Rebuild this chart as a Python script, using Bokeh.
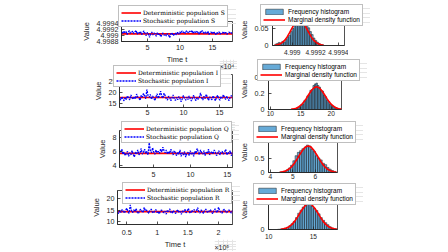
import numpy as np
from jinja2 import Template
from bokeh.plotting import figure
from bokeh.models import Legend, LegendItem, Label, FixedTicker, CustomJSTickFormatter, Range1d
from bokeh.embed import file_html
from bokeh.resources import INLINE

# ---------------- data ----------------
# time spans of the simulated paths (x10^4 for S, I, Q ; x10^5 for R)
t_span_S = (1.0, 18.1)
t_span_I = (1.1, 16.8)
t_span_Q = (0.4, 15.7)
t_span_R = (0.35, 2.23)

det_S = 4.99905
det_I = 17.7
det_Q = 5.72
det_R = 14.3

sto_S = [
    4.99912, 4.99905, 4.99915, 4.99909, 4.99913, 4.99903, 4.99911, 4.99916, 4.99907, 4.99910,
    4.99914, 4.99906, 4.99912, 4.99917, 4.99904, 4.99911, 4.99908, 4.99913, 4.99902, 4.99909,
    4.99915, 4.99907, 4.99899, 4.99910, 4.99906, 4.99893, 4.99904, 4.99911, 4.99901, 4.99908,
    4.99905, 4.99897, 4.99909, 4.99903, 4.99906, 4.99895, 4.99902, 4.99908, 4.99900, 4.99904,
    4.99898, 4.99906, 4.99901, 4.99892, 4.99905, 4.99909, 4.99899, 4.99903, 4.99907, 4.99902,
    4.99910, 4.99904, 4.99912, 4.99907, 4.99915, 4.99909, 4.99913, 4.99906, 4.99916, 4.99911,
    4.99908, 4.99914, 4.99910, 4.99917, 4.99906, 4.99912, 4.99909, 4.99915, 4.99911, 4.99904,
    4.99913, 4.99908, 4.99916, 4.99910, 4.99905, 4.99912, 4.99907, 4.99914, 4.99903, 4.99909,
    4.99911, 4.99905, 4.99913, 4.99908, 4.99902, 4.99910, 4.99906, 4.99912, 4.99904, 4.99909,
    4.99907, 4.99913, 4.99905, 4.99910, 4.99903, 4.99908, 4.99911, 4.99906, 4.99909, 4.99905]

sto_I = [
    17.2, 16.5, 18.1, 17.0, 16.2, 17.8, 16.8, 18.5, 17.4, 16.6,
    18.9, 17.6, 16.9, 18.2, 17.1, 19.3, 18.0, 17.5, 16.4, 18.7,
    17.9, 19.6, 18.3, 17.2, 21.3, 18.6, 17.8, 19.1, 16.9, 18.4,
    17.6, 16.3, 18.0, 19.4, 17.3, 18.8, 20.6, 18.2, 17.4, 19.7,
    18.5, 17.1, 16.6, 18.3, 17.7, 16.2, 17.5, 18.9, 17.0, 16.4,
    17.8, 16.7, 18.2, 17.3, 15.8, 17.1, 18.6, 17.4, 16.5, 17.9,
    16.8, 18.4, 17.2, 16.1, 17.6, 18.8, 17.0, 16.3, 17.7, 16.9,
    18.1, 19.8, 17.5, 16.6, 18.3, 17.2, 19.2, 17.8, 16.4, 18.0,
    17.3, 16.7, 18.5, 17.6, 16.2, 17.9, 18.7, 17.1, 16.5, 18.2,
    17.4, 19.0, 17.7, 16.8, 18.4, 17.0, 16.3, 17.8, 18.6, 17.5]

sto_Q = [
    6.1, 5.8, 6.3, 5.6, 5.9, 5.4, 5.7, 6.0, 5.3, 5.8,
    5.5, 6.1, 5.6, 5.2, 5.9, 5.7, 6.2, 5.5, 5.8, 6.4,
    5.6, 5.9, 6.3, 5.7, 6.0, 5.5, 7.2, 6.1, 5.8, 6.5,
    5.9, 5.6, 6.2, 5.8, 6.0, 5.7, 6.3, 5.9, 6.6, 6.1,
    5.8, 6.2, 5.6, 6.0, 5.7, 6.3, 5.9, 5.5, 6.1, 5.8,
    5.4, 5.9, 5.6, 6.2, 5.3, 5.8, 5.5, 6.0, 5.2, 5.7,
    5.9, 5.4, 6.1, 5.6, 5.8, 5.3, 6.0, 5.7, 6.4, 5.9,
    5.5, 6.2, 5.8, 5.6, 6.1, 5.4, 5.9, 5.7, 6.3, 5.5,
    5.8, 6.0, 5.6, 6.2, 5.9, 5.4, 5.7, 6.1, 5.5, 5.9,
    6.0, 5.6, 5.8, 6.3, 5.5, 5.9, 5.7, 6.1, 5.4, 5.8]

sto_R = [
    14.1, 13.5, 14.8, 13.9, 15.2, 14.4, 13.7, 14.9, 15.8, 14.2,
    13.6, 17.2, 14.7, 13.8, 15.1, 14.3, 15.6, 14.0, 13.4, 14.8,
    15.3, 14.5, 13.9, 16.1, 14.6, 15.0, 14.2, 13.6, 14.9, 15.4,
    14.1, 13.7, 14.6, 15.2, 13.9, 14.4, 13.3, 14.7, 15.0, 14.2,
    13.8, 14.5, 13.2, 14.9, 14.3, 15.5, 14.0, 13.6, 14.8, 14.1,
    13.5, 14.6, 15.1, 13.9, 14.4, 13.1, 14.7, 14.2, 15.3, 13.8,
    14.5, 15.7, 14.0, 13.6, 14.9, 14.3, 15.2, 13.9, 14.6, 16.0,
    14.1, 13.7, 15.0, 14.4, 13.5, 14.8, 15.4, 14.2, 13.8, 14.6,
    15.1, 14.0, 13.4, 14.7, 15.5, 14.3, 13.9, 16.2, 14.5, 14.1,
    13.6, 14.9, 15.3, 14.2, 13.8, 14.6, 15.0, 14.4, 13.7, 14.8]

# histograms: first bin left edge, bin width, bar heights
hist_S_start, hist_S_width = 4.99885, 0.000015
hist_S = [0.004, 0.006, 0.009, 0.007, 0.012, 0.010, 0.018, 0.026, 0.030, 0.041, 0.050, 0.058, 0.066, 0.071,
          0.074, 0.078, 0.072, 0.069, 0.060, 0.052, 0.041, 0.032, 0.022, 0.015, 0.010, 0.006, 0.003, 0.002]
hist_I_start, hist_I_width = 14.0, 0.25
hist_I = [0.008, 0.015, 0.030, 0.035, 0.060, 0.070, 0.110, 0.125, 0.170, 0.185, 0.240, 0.250, 0.300, 0.320,
          0.330, 0.300, 0.280, 0.240, 0.230, 0.180, 0.160, 0.115, 0.100, 0.065, 0.055, 0.040, 0.030, 0.025, 0.012]
hist_Q_start, hist_Q_width = 4.4, 0.1
hist_Q = [0.015, 0.030, 0.050, 0.090, 0.160, 0.260, 0.420, 0.600, 0.720, 0.780, 0.850, 0.900, 0.980, 0.950,
          0.830, 0.760, 0.600, 0.520, 0.450, 0.330, 0.280, 0.180, 0.120, 0.070, 0.040]
hist_R_start, hist_R_width = 11.0, 0.25
hist_R = [0.003, 0.006, 0.012, 0.020, 0.032, 0.055, 0.085, 0.120, 0.175, 0.240, 0.285, 0.330, 0.365, 0.385,
          0.370, 0.345, 0.310, 0.280, 0.230, 0.175, 0.135, 0.100, 0.070, 0.040, 0.022, 0.012, 0.005]

# marginal density curves
dens_S_x = [4.99885, 4.998871, 4.998892, 4.998913, 4.998934, 4.998955, 4.998976, 4.998997, 4.999018, 4.999039,
            4.99906, 4.999081, 4.999102, 4.999123, 4.999144, 4.999165, 4.999186, 4.999207, 4.999228, 4.999249, 4.99927]
dens_S_y = [0.0008, 0.0020, 0.0043, 0.0084, 0.0150, 0.0247, 0.0370, 0.0507, 0.0635, 0.0727,
            0.0760, 0.0727, 0.0635, 0.0507, 0.0370, 0.0247, 0.0150, 0.0084, 0.0043, 0.0020, 0.0008]
dens_I_x = [13.4, 13.82, 14.24, 14.66, 15.08, 15.5, 15.92, 16.34, 16.76, 17.18,
            17.6, 18.02, 18.44, 18.86, 19.28, 19.7, 20.12, 20.54, 20.96, 21.38, 21.8]
dens_I_y = [0.0031, 0.0074, 0.0160, 0.0314, 0.0564, 0.0926, 0.1388, 0.1901, 0.2380, 0.2724,
            0.2850, 0.2724, 0.2380, 0.1901, 0.1388, 0.0926, 0.0564, 0.0314, 0.0160, 0.0074, 0.0031]
dens_Q_x = [4.42, 4.546, 4.672, 4.798, 4.924, 5.05, 5.176, 5.302, 5.428, 5.554,
            5.68, 5.806, 5.932, 6.058, 6.184, 6.31, 6.436, 6.562, 6.688, 6.814, 6.94]
dens_Q_y = [0.0105, 0.0247, 0.0532, 0.1045, 0.1881, 0.3088, 0.4627, 0.6337, 0.7933, 0.9082,
            0.9500, 0.9082, 0.7933, 0.6337, 0.4627, 0.3088, 0.1881, 0.1045, 0.0532, 0.0247, 0.0105]
dens_R_x = [11.35, 11.665, 11.98, 12.295, 12.61, 12.925, 13.24, 13.555, 13.87, 14.185,
            14.5, 14.815, 15.13, 15.445, 15.76, 16.075, 16.39, 16.705, 17.02, 17.335, 17.65]
dens_R_y = [0.0042, 0.0099, 0.0213, 0.0418, 0.0752, 0.1235, 0.1851, 0.2535, 0.3173, 0.3633,
            0.3800, 0.3633, 0.3173, 0.2535, 0.1851, 0.1235, 0.0752, 0.0418, 0.0213, 0.0099, 0.0042]

ticks_S_y = [4.9988, 4.999, 4.9992, 4.9994]
ticks_I_y = [15, 20, 25]
ticks_Q_y = [4, 6, 8]
ticks_R_y = [10, 15, 20]
ticks_t_4 = [5, 10, 15]
ticks_t_5 = [0.5, 1, 1.5, 2]
ticks_hS_x = [4.999, 4.9992, 4.9994]
ticks_hS_y = [0, 0.05]
ticks_hI_x = [10, 15, 20]
ticks_hI_y = [0, 0.2, 0.4]
ticks_hQ_x = [4, 5, 6]
ticks_hQ_y = [0, 0.5]
ticks_hR_x = [10, 15]
ticks_hR_y = [0, 0.5]

# ---------------- styling ----------------
SANS = "Liberation Sans"
SERIF = "DejaVu Serif"
AX = "#262626"
RED = "#FF0000"
BLUE = "#0000FF"
HIST_FILL = "#0072BD"

roots, places = [], []


def place(p, left, top):
    roots.append(p)
    places.append((left, top))


def fmt():
    return CustomJSTickFormatter(code="return String(+tick.toFixed(5));")


def make_panel(frame, pad, xr, yr, xticks, yticks, xstand, ystand, xlabel=None, xfont="7.2px"):
    fx0, fy0, fx1, fy1 = frame
    L, T, R, B = pad
    p = figure(width=fx1 - fx0 + L + R, height=fy1 - fy0 + T + B,
               x_range=Range1d(*xr), y_range=Range1d(*yr),
               output_backend="svg", toolbar_location=None,
               min_border_left=L, min_border_right=R, min_border_top=T, min_border_bottom=B)
    p.xgrid.visible = False
    p.ygrid.visible = False
    p.outline_line_color = AX
    p.outline_line_width = 0.8
    p.background_fill_color = "white"
    p.border_fill_alpha = 0
    for ax in (p.xaxis[0], p.yaxis[0]):
        ax.major_tick_in = 3
        ax.major_tick_out = 0
        ax.minor_tick_line_color = None
        ax.axis_line_color = AX
        ax.axis_line_width = 0.8
        ax.major_tick_line_color = AX
        ax.major_tick_line_width = 0.8
        ax.major_label_text_font = SANS
        ax.major_label_text_font_size = "7.2px"
        ax.major_label_text_color = AX
        ax.axis_label_text_font = SANS
        ax.axis_label_text_font_size = "7.5px"
        ax.axis_label_text_font_style = "normal"
        ax.axis_label_text_color = AX
        ax.formatter = fmt()
    p.xaxis.major_label_text_font_size = xfont
    p.xaxis.major_label_standoff = xstand
    p.yaxis.major_label_standoff = ystand
    p.xaxis.axis_label_standoff = 2
    p.yaxis.axis_label_standoff = 3
    p.xaxis.ticker = FixedTicker(ticks=xticks)
    p.yaxis.ticker = FixedTicker(ticks=yticks)
    p.yaxis.axis_label = "Value"
    if xlabel:
        p.xaxis.axis_label = xlabel
    place(p, fx0 - L, fy0 - T)
    return p


def time_panel(frame, pad, tspan, yr, yticks, xticks, det, sto, xstand):
    p = make_panel(frame, pad, tspan, yr, xticks, yticks, xstand, 3, "Time t")
    t = np.linspace(tspan[0], tspan[1], len(sto))
    p.line(t, [det] * len(t), line_color=RED, line_width=1.6)
    p.line(t, sto, line_color=BLUE, line_width=1.3, line_dash="2 1")
    return p


def hist_centers(start, width, heights):
    return [start + width * (i + 0.5) for i in range(len(heights))]


def hist_panel(frame, pad, xr, yr, xticks, yticks, start, width, heights, dx, dy, xstand):
    p = make_panel(frame, pad, xr, yr, xticks, yticks, xstand, 4, xfont="6.6px")
    p.vbar(x=hist_centers(start, width, heights), top=heights, bottom=0, width=width,
           fill_color=HIST_FILL, fill_alpha=0.6, line_color="#1a1a1a", line_width=0.5)
    p.line(dx, dy, line_color=RED, line_width=1.6)
    return p


def blank(w, h):
    # transparent canvas whose view range lies away from the data (only the legend shows)
    p = figure(width=w, height=h, x_range=Range1d(-3, -2), y_range=Range1d(-3, -2),
               x_axis_location=None, y_axis_location=None,
               output_backend="svg", toolbar_location=None, min_border=0)
    p.outline_line_color = None
    p.background_fill_alpha = 0
    p.border_fill_alpha = 0
    return p


def legend_time(name, tspan, det, sto, left, top):
    p = blank(118, 22)
    t = np.linspace(tspan[0], tspan[1], len(sto))
    r1 = p.line(t, [det] * len(t), line_color=RED, line_width=1.6)
    r2 = p.line(t, sto, line_color=BLUE, line_width=1.3, line_dash="2 1")
    items = [LegendItem(label="Deterministic population " + name, renderers=[r1]),
             LegendItem(label="Stochastic population " + name, renderers=[r2])]
    finish_legend(p, items, SERIF, "6px", 20, 2, left, top)


def legend_hist(start, width, heights, dx, dy, left, top):
    p = blank(110, 22)
    r1 = p.vbar(x=hist_centers(start, width, heights), top=heights, bottom=0, width=width,
                fill_color=HIST_FILL, fill_alpha=0.6, line_color="#1a1a1a", line_width=0.5)
    r2 = p.line(dx, dy, line_color=RED, line_width=1.6)
    items = [LegendItem(label="Frequency histogram", renderers=[r1]),
             LegendItem(label="Marginal density function", renderers=[r2])]
    finish_legend(p, items, SANS, "6.5px", 22, 3, left, top)


def finish_legend(p, items, font, size, gw, so, left, top):
    leg = Legend(items=items, location="top_left", orientation="vertical",
                 label_text_font=font, label_text_font_size=size, label_text_color="black",
                 glyph_width=gw, glyph_height=7, label_height=8, label_standoff=so,
                 padding=2, spacing=0, margin=0,
                 border_line_color="#808080", border_line_width=0.8,
                 background_fill_color="white", background_fill_alpha=1.0)
    p.add_layout(leg, "center")
    place(p, left, top)


def note(text, left, top, w, h):
    p = blank(w, h)
    p.add_layout(Label(x=0, y=1, x_units="screen", y_units="screen", text=text,
                       text_font=SANS, text_font_size="7px", text_color=AX,
                       text_align="left", text_baseline="bottom"))
    place(p, left, top)


# ---------------- left column: time paths ----------------
time_panel((121, 21, 232, 44), (121, 4, 4, 22), t_span_S, (4.99879, 4.99947),
           ticks_S_y, ticks_t_4, det_S, sto_S, 3)
time_panel((119, 74, 232, 107), (119, 4, 4, 24), t_span_I, (13.18, 28.18),
           ticks_I_y, ticks_t_4, det_I, sto_I, 2)
time_panel((119, 130, 232, 169), (119, 4, 4, 24), t_span_Q, (3.733, 8.933),
           ticks_Q_y, ticks_t_4, det_Q, sto_Q, 4)
time_panel((117, 190, 232, 224), (117, 4, 4, 28), t_span_R, (8.70, 23.48),
           ticks_R_y, ticks_t_5, det_R, sto_R, 5)

# ---------------- right column: histograms ----------------
hist_panel((264, 14, 344, 45), (28, 4, 4, 14), (4.99883, 4.99945), (0, 0.0912),
           ticks_hS_x, ticks_hS_y, hist_S_start, hist_S_width, hist_S, dens_S_x, dens_S_y, 4)
hist_panel((264, 68, 341, 109), (28, 4, 4, 12), (9.7, 21.7), (0, 0.5125),
           ticks_hI_x, ticks_hI_y, hist_I_start, hist_I_width, hist_I, dens_I_x, dens_I_y, 1)
hist_panel((263, 132, 337, 172), (27, 4, 4, 12), (3.92, 6.98), (0, 1.43),
           ticks_hQ_x, ticks_hQ_y, hist_Q_start, hist_Q_width, hist_Q, dens_Q_x, dens_Q_y, 1)
hist_panel((263, 190, 337, 229), (27, 4, 4, 14), (9.98, 17.7), (0, 0.574),
           ticks_hR_x, ticks_hR_y, hist_R_start, hist_R_width, hist_R, dens_R_x, dens_R_y, 4)

# ---------------- axis exponent notes ----------------
note("×10⁴", 219, 58, 18, 11)
note("×10⁴", 217, 119, 18, 11)
note("×10⁵", 214, 239, 22, 12)

# ---------------- legends ----------------
legend_time("S", t_span_S, det_S, sto_S, 118, 5)
legend_time("I", t_span_I, det_I, sto_I, 113, 65)
legend_time("Q", t_span_Q, det_Q, sto_Q, 121, 121)
legend_time("R", t_span_R, det_R, sto_R, 122, 182)
legend_hist(hist_S_start, hist_S_width, hist_S, dens_S_x, dens_S_y, 260, 4)
legend_hist(hist_I_start, hist_I_width, hist_I, dens_I_x, dens_I_y, 257, 59)
legend_hist(hist_Q_start, hist_Q_width, hist_Q, dens_Q_x, dens_Q_y, 253, 121)
legend_hist(hist_R_start, hist_R_width, hist_R, dens_R_x, dens_R_y, 253, 183)

PAGE = Template("""<!DOCTYPE html>
<html lang="en">
<head>
<meta charset="utf-8">
<title>Populations</title>
<style>html, body { margin: 0; padding: 0; background: white; }</style>
{{ bokeh_css if bokeh_css }}
{{ bokeh_js if bokeh_js }}
</head>
<body>
{% for doc in docs %}{% for root in doc.roots %}
<div style="position: absolute; left: {{ places[loop.index0][0] }}px; top: {{ places[loop.index0][1] }}px;"><div id="{{ root.elementid }}" style="display: contents;"></div></div>
{% endfor %}{% endfor %}
{{ plot_script }}
</body>
</html>""")

open("out.html", "w").write(file_html(roots, INLINE, template=PAGE,
                                      template_variables={"places": places}))
